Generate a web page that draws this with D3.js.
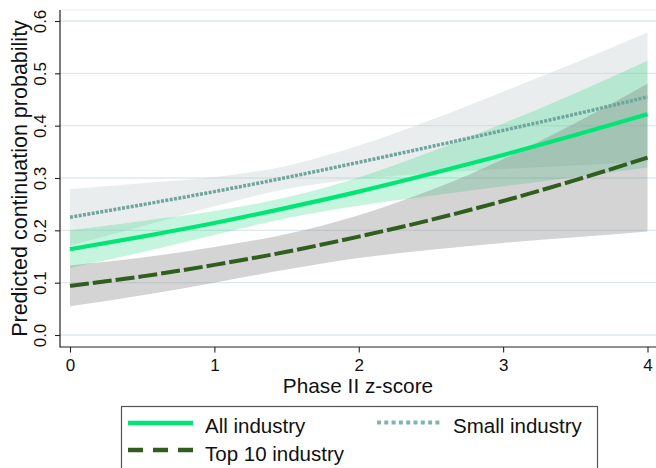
<!DOCTYPE html>
<html>
<head>
<meta charset="utf-8">
<script src="https://cdn.jsdelivr.net/npm/d3@7"></script>
<style>
  html, body { margin: 0; padding: 0; background: #fff; }
  svg { display: block; font-family: "Liberation Sans", Arial, Helvetica, sans-serif; }
</style>
</head>
<body>
<svg id="chart" width="656" height="468"></svg>
<script>
// ---- data ----
const zScores = [0, 0.5, 1, 1.5, 2, 2.5, 3, 3.5, 4];

const allMean   = [0.164, 0.188, 0.214, 0.243, 0.274, 0.308, 0.344, 0.382, 0.422];
const allLow    = [0.128, 0.158, 0.191, 0.223, 0.247, 0.266, 0.284, 0.302, 0.320];
const allHigh   = [0.200, 0.218, 0.237, 0.263, 0.301, 0.350, 0.404, 0.462, 0.524];

const smallMean = [0.225, 0.249, 0.274, 0.301, 0.330, 0.360, 0.391, 0.422, 0.455];
const smallLow  = [0.171, 0.208, 0.246, 0.279, 0.298, 0.309, 0.317, 0.324, 0.332];
const smallHigh = [0.279, 0.290, 0.302, 0.323, 0.362, 0.411, 0.465, 0.520, 0.578];

const top10Mean = [0.094, 0.112, 0.134, 0.159, 0.188, 0.220, 0.256, 0.296, 0.339];
const top10Low  = [0.055, 0.076, 0.100, 0.125, 0.147, 0.163, 0.176, 0.187, 0.198];
const top10High = [0.133, 0.148, 0.168, 0.193, 0.229, 0.277, 0.336, 0.405, 0.480];

const xTicks = [0, 1, 2, 3, 4];
const yTicks = [0, 0.1, 0.2, 0.3, 0.4, 0.5, 0.6];

const seriesNames = ["All industry", "Small industry", "Top 10 industry"];
const xTitle = "Phase II z-score";
const yTitle = "Predicted continuation probability";

// ---- layout ----
const svg = d3.select("#chart");
const axisX = 60, axisBottomY = 347, plotTop = 10, plotRight = 656;

const x = d3.scaleLinear().domain([0, 4]).range([70, 647.5]);
const y = d3.scaleLinear().domain([0, 0.6]).range([335, 21]);

const font = "'Liberation Sans', Arial, Helvetica, sans-serif";

// gridlines
svg.append("g").selectAll("line").data(yTicks).join("line")
  .attr("x1", axisX).attr("x2", plotRight)
  .attr("y1", d => y(d)).attr("y2", d => y(d))
  .attr("stroke", "#dfe9ed").attr("stroke-width", 1.3);
svg.append("line")
  .attr("x1", axisX).attr("x2", plotRight).attr("y1", plotTop).attr("y2", plotTop)
  .attr("stroke", "#e6eef1").attr("stroke-width", 1.2);

// helpers
function bandData(lo, hi) { return zScores.map((z, i) => ({ z, lo: lo[i], hi: hi[i] })); }
function lineData(m) { return zScores.map((z, i) => ({ z, v: m[i] })); }
const curve = d3.curveMonotoneX;
const area = d3.area().x(d => x(d.z)).y0(d => y(d.lo)).y1(d => y(d.hi)).curve(curve);
const line = d3.line().x(d => x(d.z)).y(d => y(d.v)).curve(curve);

// bands
svg.append("path").datum(bandData(smallLow, smallHigh)).attr("d", area)
  .attr("fill", "rgb(200,210,210)").attr("fill-opacity", 0.4);
svg.append("path").datum(bandData(allLow, allHigh)).attr("d", area)
  .attr("fill", "rgb(0,210,112)").attr("fill-opacity", 0.224);
svg.append("path").datum(bandData(top10Low, top10High)).attr("d", area)
  .attr("fill", "rgb(128,128,128)").attr("fill-opacity", 0.34);

// lines
const colAll = "#00e676", colSmall = "#6fa59d", colTop = "#2f5e1e";
svg.append("path").datum(lineData(top10Mean)).attr("d", line)
  .attr("fill", "none").attr("stroke", colTop).attr("stroke-width", 4)
  .attr("stroke-dasharray", "19,4");
svg.append("path").datum(lineData(smallMean)).attr("d", line)
  .attr("fill", "none").attr("stroke", colSmall).attr("stroke-width", 3.5)
  .attr("stroke-dasharray", "3,1.4");
svg.append("path").datum(lineData(allMean)).attr("d", line)
  .attr("fill", "none").attr("stroke", colAll).attr("stroke-width", 4.2);

// axes lines
svg.append("line").attr("x1", axisX).attr("x2", axisX).attr("y1", plotTop).attr("y2", axisBottomY + 0.5)
  .attr("stroke", "#222").attr("stroke-width", 1.2);
svg.append("line").attr("x1", axisX).attr("x2", plotRight).attr("y1", axisBottomY).attr("y2", axisBottomY)
  .attr("stroke", "#222").attr("stroke-width", 1.2);

// y axis
const gy = svg.append("g").attr("transform", `translate(${axisX},0)`)
  .call(d3.axisLeft(y).tickValues(yTicks).tickFormat(d3.format(".1f")).tickSize(5).tickSizeOuter(0));
gy.select(".domain").remove();
gy.selectAll(".tick line").attr("stroke", "#222").attr("stroke-width", 1.1);
gy.selectAll(".tick text")
  .attr("transform", "rotate(-90)")
  .attr("x", 0).attr("y", -14.5).attr("dy", null)
  .attr("text-anchor", "middle")
  .attr("font-size", 17).attr("font-family", font).attr("fill", "#111");

// x axis
const gx = svg.append("g").attr("transform", `translate(0,${axisBottomY})`)
  .call(d3.axisBottom(x).tickValues(xTicks).tickFormat(d3.format("d")).tickSize(5.5).tickSizeOuter(0));
gx.select(".domain").remove();
gx.selectAll(".tick line").attr("stroke", "#222").attr("stroke-width", 1.1);
gx.selectAll(".tick text")
  .attr("y", 24).attr("dy", null)
  .attr("font-size", 17).attr("font-family", font).attr("fill", "#111");

// titles
svg.append("text").attr("x", (axisX + plotRight) / 2).attr("y", 392.5)
  .attr("text-anchor", "middle").attr("font-size", 20.8).attr("font-family", font).attr("fill", "#111")
  .text(xTitle);
svg.append("text").attr("transform", `translate(27,${(plotTop + 335) / 2 + 6}) rotate(-90)`)
  .attr("text-anchor", "middle").attr("font-size", 21.5).attr("font-family", font).attr("fill", "#111")
  .text(yTitle);

// legend
const lg = svg.append("g");
lg.append("rect").attr("x", 121.5).attr("y", 406.5).attr("width", 476).attr("height", 90)
  .attr("fill", "#fff").attr("stroke", "#555").attr("stroke-width", 1.2);
const legendItems = [
  { name: seriesNames[0], color: colAll, dash: null, w: 4.5, kx: 128, ky: 423, tx: 205, ty: 433 },
  { name: seriesNames[1], color: "#7fb5ad", dash: "4,3.3", w: 4, kx: 377, ky: 422.5, tx: 453, ty: 433 },
  { name: seriesNames[2], color: colTop, dash: "15,10", w: 4.5, kx: 128, ky: 450, tx: 205, ty: 460.5 }
];
legendItems.forEach(d => {
  lg.append("line").attr("x1", d.kx).attr("x2", d.kx + 65).attr("y1", d.ky).attr("y2", d.ky)
    .attr("stroke", d.color).attr("stroke-width", d.w)
    .attr("stroke-dasharray", d.dash);
  lg.append("text").attr("x", d.tx).attr("y", d.ty)
    .attr("font-size", 20.5).attr("font-family", font).attr("fill", "#111")
    .text(d.name);
});
</script>
</body>
</html>
